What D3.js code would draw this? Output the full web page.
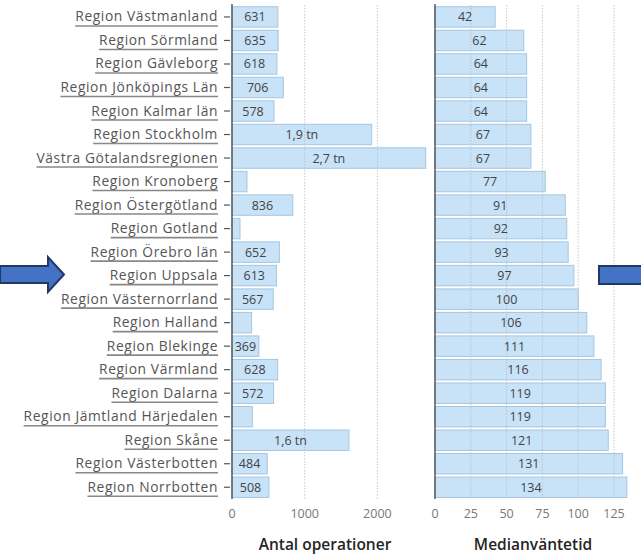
<!DOCTYPE html>
<html><head><meta charset="utf-8">
<script src="https://cdn.jsdelivr.net/npm/d3@7"></script>
<style>
body{margin:0;background:#fff;}
svg{display:block;font-family:"Open Sans",Roboto,sans-serif;}
</style></head>
<body><svg id="c" width="641" height="555"></svg>
<script>
const regions = ["Region Västmanland","Region Sörmland","Region Gävleborg","Region Jönköpings Län","Region Kalmar län","Region Stockholm","Västra Götalandsregionen","Region Kronoberg","Region Östergötland","Region Gotland","Region Örebro län","Region Uppsala","Region Västernorrland","Region Halland","Region Blekinge","Region Värmland","Region Dalarna","Region Jämtland Härjedalen","Region Skåne","Region Västerbotten","Region Norrbotten"];
const operations = [631,635,618,706,578,1921,2664,206,836,110,652,613,567,270,369,628,572,280,1609,484,508];
const operationLabels = ["631","635","618","706","578","1,9 tn","2,7 tn","","836","","652","613","567","","369","628","572","","1,6 tn","484","508"];
const waitTimes = [42,62,64,64,64,67,67,77,91,92,93,97,100,106,111,116,119,119,121,131,134];
const opTicks = [0,1000,2000];
const waitTicks = [0,25,50,75,100,125];
const titles = ["Antal operationer","Medianväntetid"];

const svg = d3.select("#c");
const y = d3.scaleBand().domain(regions).range([5.2,499]).paddingInner(0.13).paddingOuter(0.065);
const x1 = d3.scaleLinear().domain([0,2700]).range([232,428.3]);
const x2 = d3.scaleLinear().domain([0,135]).range([435,628.3]);

function panel(x, vals, labels, ticks, title, titleX, showY){
  const g = svg.append("g");
  g.selectAll("rect.bar").data(vals).join("rect")
    .attr("x", x(0)).attr("y",(d,i)=>y(regions[i]))
    .attr("width", d=>x(d)-x(0)).attr("height", y.bandwidth())
    .attr("fill","#c8e2f8").attr("stroke","#a5c6e0").attr("stroke-width",1);
  g.selectAll("line.grid").data(ticks.filter(t=>t>0)).join("line")
    .attr("x1",d=>x(d)).attr("x2",d=>x(d)).attr("y1",5).attr("y2",499)
    .attr("stroke","#bbb").attr("stroke-dasharray","1.5,1.5").attr("stroke-opacity",0.8);
  g.selectAll("text.val").data(labels).join("text")
    .attr("x",(d,i)=>(x(0)+x(vals[i]))/2).attr("y",(d,i)=>y(regions[i])+y.bandwidth()/2+4.5)
    .attr("text-anchor","middle").attr("font-size",12.5).attr("fill","#444").text(d=>d);
  g.append("line").attr("x1",x(0)).attr("x2",x(0)).attr("y1",4).attr("y2",499)
    .attr("stroke","#444").attr("stroke-width",1.3);
  g.selectAll("text.tick").data(ticks).join("text")
    .attr("x",d=>x(d)).attr("y",518).attr("text-anchor","middle")
    .attr("font-size",12.5).attr("fill","#777").text(d=>d);
  g.append("text").attr("x",titleX).attr("y",550)
    .attr("text-anchor","middle").attr("font-size",15.5).attr("font-weight",600).attr("fill","#252525").text(title);
  if(showY){
    const yl = g.selectAll("g.yl").data(regions).join("g")
      .attr("transform",d=>`translate(0,${y(d)+y.bandwidth()/2})`);
    yl.append("line").attr("x1",224).attr("x2",230).attr("stroke","#555").attr("stroke-width",1.2);
    const t = yl.append("text").attr("x",218).attr("y",4.5).attr("text-anchor","end")
      .attr("font-size",13.8).attr("letter-spacing",0.6).attr("fill","#555").text(d=>d);
    t.each(function(){
      const w = this.getComputedTextLength();
      d3.select(this.parentNode).append("line").attr("x1",218-w).attr("x2",218)
        .attr("y1",9).attr("y2",9).attr("stroke","#888").attr("stroke-width",1.6);
    });
  }
}
panel(x1, operations, operationLabels, opTicks, titles[0], 325, true);
panel(x2, waitTimes, waitTimes.map(String), waitTicks, titles[1], 533, false);

svg.append("path").attr("d","M0,266 L48,266 L48,257 L64,274.5 L48,292 L48,283 L0,283 Z")
  .attr("fill","#4472c4").attr("stroke","#1f3864").attr("stroke-width",2);
svg.append("path").attr("d","M599,266 L645,266 L645,284 L599,284 Z")
  .attr("fill","#4472c4").attr("stroke","#1f3864").attr("stroke-width",2);
</script></body></html>
